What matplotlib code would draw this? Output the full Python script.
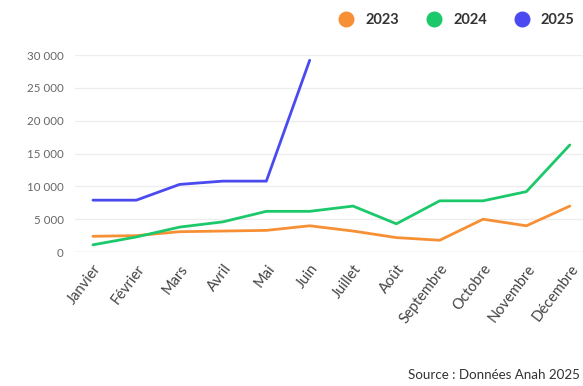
import matplotlib
matplotlib.use("Agg")
import matplotlib.pyplot as plt
from matplotlib.lines import Line2D
from matplotlib.ticker import FuncFormatter

months = ["Janvier", "Février", "Mars", "Avril", "Mai", "Juin", "Juillet",
          "Août", "Septembre", "Octobre", "Novembre", "Décembre"]
values_2023 = [2400, 2500, 3100, 3200, 3300, 4000, 3200, 2200, 1800, 5000, 4000, 7000]
values_2024 = [1100, 2300, 3800, 4600, 6200, 6200, 7000, 4300, 7800, 7800, 9200, 16300]
values_2025 = [7900, 7900, 10300, 10800, 10800, 29200]
years = ["2023", "2024", "2025"]
colors = ["#F79035", "#1CC96A", "#4A4AF0"]
yticks = [0, 5000, 10000, 15000, 20000, 25000, 30000]

plt.rcParams["font.family"] = ["Lato", "DejaVu Sans"]

fig = plt.figure(figsize=(5.83, 3.86), dpi=100)
ax = fig.add_axes([0.1286, 0.347, 0.871, 0.5105])

series = [values_2023, values_2024, values_2025]
for vals, col in zip(series, colors):
    ax.plot(range(len(vals)), vals, color=col, lw=2.0, solid_capstyle="round",
            solid_joinstyle="round", clip_on=False, zorder=3)

ax.set_xlim(-0.415, 11.3)
ax.set_ylim(0, 30000)
ax.set_yticks(yticks)
ax.yaxis.set_major_formatter(FuncFormatter(lambda v, p: f"{int(v):,}".replace(",", " ")))
ax.set_xticks(range(len(months)))
ax.set_xticklabels(months, rotation=53, ha="right", rotation_mode="anchor")

ax.tick_params(axis="y", length=0, pad=8, labelsize=8.3, labelcolor="#666666")
ax.tick_params(axis="x", length=0, pad=7, labelsize=10.5, labelcolor="#444444")

ax.grid(axis="y", color="#EDEDED", lw=0.9)
ax.set_axisbelow(True)
for s in ax.spines.values():
    s.set_visible(False)
ax.axhline(0, color="#F7DDE2", lw=1.0, zorder=1)

handles = [Line2D([], [], marker="o", ls="", markersize=10.5, markerfacecolor=c,
                  markeredgecolor=c) for c in colors]
fig.legend(handles, years, loc="upper right", bbox_to_anchor=(1.008, 1.0), ncol=3,
           frameon=False, handletextpad=0.3, columnspacing=1.4,
           prop={"weight": "bold", "size": 10.5}, labelcolor="#333333")

fig.text(0.995, 0.012, "Source : Données Anah 2025", ha="right", va="bottom",
         fontsize=9.6, color="#333333")

fig.savefig("out.png", dpi=100, facecolor="white")
